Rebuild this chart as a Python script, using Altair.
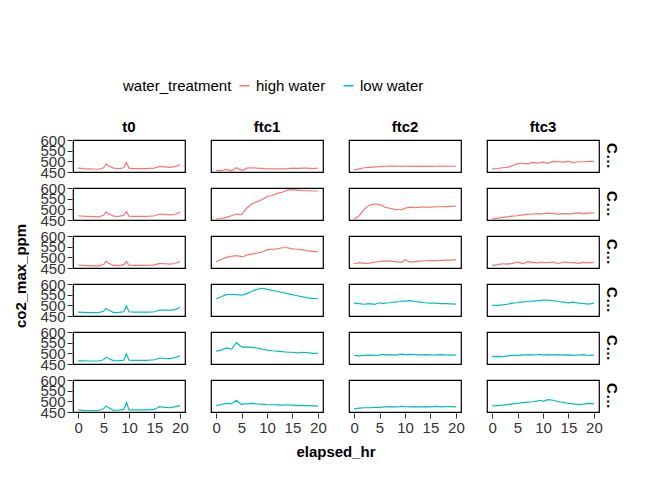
import altair as alt
import pandas as pd

hours = [0, 1, 2, 3, 4, 5, 5.5, 6, 7, 8, 9, 9.5, 10, 11, 12, 13, 14, 15, 16, 17, 18, 19, 20]
phases = ['t0', 'ftc1', 'ftc2', 'ftc3']
chambers = ['COR_1 high water', 'COR_2 high water', 'COR_3 high water',
            'COR_4 low water', 'COR_5 low water', 'COR_6 low water']
treatments = ['high water', 'high water', 'high water', 'low water', 'low water', 'low water']

series = {
    ('COR_1 high water', 't0'): [468, 466, 465, 464, 463, 470, 488, 478, 468, 466, 470, 495, 468, 466, 466, 466, 467, 468, 476, 474, 472, 475, 484],
    ('COR_1 high water', 'ftc1'): [458, 456, 462, 455, 470, 458, 460, 468, 470, 468, 467, 466, 465, 465, 465, 465, 466, 468, 467, 468, 468, 466, 468],
    ('COR_1 high water', 'ftc2'): [460, 465, 470, 472, 474, 475, 476, 477, 478, 478, 477, 476, 478, 476, 476, 476, 477, 476, 477, 478, 478, 477, 478],
    ('COR_1 high water', 'ftc3'): [465, 466, 470, 472, 480, 488, 492, 490, 488, 495, 492, 494, 496, 492, 500, 498, 496, 500, 494, 498, 498, 500, 500],
    ('COR_2 high water', 't0'): [470, 468, 467, 466, 465, 472, 488, 478, 468, 467, 472, 490, 468, 467, 467, 467, 468, 470, 478, 476, 474, 477, 486],
    ('COR_2 high water', 'ftc1'): [455, 457, 462, 470, 478, 475, 490, 505, 525, 535, 545, 552, 560, 565, 575, 580, 590, 592, 590, 588, 587, 586, 586],
    ('COR_2 high water', 'ftc2'): [455, 470, 500, 520, 525, 522, 518, 510, 505, 500, 498, 500, 505, 510, 508, 510, 510, 510, 512, 512, 513, 514, 515],
    ('COR_2 high water', 'ftc3'): [455, 458, 462, 465, 468, 470, 472, 474, 476, 478, 480, 478, 480, 482, 480, 478, 480, 478, 481, 483, 480, 482, 482],
    ('COR_3 high water', 't0'): [464, 462, 461, 460, 460, 466, 482, 472, 462, 461, 466, 480, 463, 462, 462, 462, 463, 465, 472, 470, 468, 471, 480],
    ('COR_3 high water', 'ftc1'): [480, 490, 500, 505, 508, 503, 505, 510, 515, 520, 525, 530, 535, 538, 540, 545, 545, 540, 538, 535, 530, 528, 525],
    ('COR_3 high water', 'ftc2'): [470, 475, 472, 473, 478, 480, 482, 482, 483, 480, 478, 478, 490, 478, 480, 482, 484, 485, 485, 486, 487, 487, 488],
    ('COR_3 high water', 'ftc3'): [462, 465, 470, 468, 472, 478, 475, 470, 480, 476, 474, 478, 475, 476, 478, 470, 478, 476, 475, 472, 476, 474, 476],
    ('COR_4 low water', 't0'): [468, 467, 466, 466, 466, 472, 485, 478, 466, 467, 470, 497, 470, 468, 468, 468, 468, 470, 478, 478, 476, 480, 490],
    ('COR_4 low water', 'ftc1'): [530, 540, 550, 552, 550, 548, 550, 555, 565, 575, 580, 578, 575, 570, 565, 560, 555, 550, 545, 540, 535, 533, 532],
    ('COR_4 low water', 'ftc2'): [510, 508, 505, 508, 505, 512, 508, 510, 512, 515, 518, 520, 520, 522, 518, 515, 512, 510, 510, 508, 508, 507, 506],
    ('COR_4 low water', 'ftc3'): [500, 500, 502, 505, 510, 512, 515, 515, 518, 520, 522, 522, 525, 524, 522, 518, 515, 512, 515, 510, 508, 506, 510],
    ('COR_5 low water', 't0'): [465, 465, 464, 464, 464, 470, 482, 476, 465, 466, 468, 498, 468, 467, 467, 467, 468, 470, 478, 476, 475, 480, 488],
    ('COR_5 low water', 'ftc1'): [510, 515, 525, 520, 550, 530, 528, 530, 528, 525, 520, 518, 515, 512, 510, 508, 505, 505, 502, 505, 503, 500, 500],
    ('COR_5 low water', 'ftc2'): [490, 488, 490, 492, 490, 492, 495, 493, 494, 492, 495, 496, 494, 495, 494, 493, 494, 493, 492, 494, 493, 492, 492],
    ('COR_5 low water', 'ftc3'): [485, 486, 485, 488, 490, 490, 493, 492, 494, 493, 494, 495, 492, 494, 493, 494, 492, 493, 490, 492, 494, 490, 492],
    ('COR_6 low water', 't0'): [460, 458, 457, 457, 457, 465, 478, 470, 458, 459, 462, 495, 460, 460, 460, 460, 461, 462, 475, 472, 470, 474, 480],
    ('COR_6 low water', 'ftc1'): [480, 485, 490, 488, 505, 485, 488, 488, 490, 488, 487, 486, 485, 484, 483, 482, 484, 482, 480, 481, 480, 479, 478],
    ('COR_6 low water', 'ftc2'): [465, 468, 470, 470, 472, 472, 473, 474, 475, 474, 475, 476, 475, 474, 475, 474, 475, 474, 476, 474, 475, 475, 474],
    ('COR_6 low water', 'ftc3'): [478, 480, 482, 485, 488, 490, 493, 494, 496, 498, 502, 505, 500, 508, 505, 498, 495, 490, 488, 485, 487, 490, 488],
}

rows = []
for chamber, treat in zip(chambers, treatments):
    for phase in phases:
        for h, v in zip(hours, series[(chamber, phase)]):
            rows.append({'elapsed_hr': h, 'co2_max_ppm': v, 'phase': phase,
                         'chamber': chamber, 'water_treatment': treat})
df = pd.DataFrame(rows)

chart = alt.Chart(df).mark_line(strokeWidth=1.2, clip=True).encode(
    x=alt.X('elapsed_hr:Q', title=None, scale=alt.Scale(domain=[-1, 21], nice=False),
            axis=alt.Axis(values=[0, 5, 10, 15, 20])),
    y=alt.Y('co2_max_ppm:Q', title=None, scale=alt.Scale(domain=[450, 600], nice=False),
            axis=alt.Axis(values=[450, 500, 550, 600], labelOverlap=False, labelBaseline='middle')),
    color=alt.Color('water_treatment:N', title='water_treatment',
                    scale=alt.Scale(domain=['high water', 'low water'], range=['#F8766D', '#00BFC4']),
                    legend=alt.Legend(orient='none', legendX=50, legendY=-62, direction='horizontal',
                                      titleOrient='left', symbolType='stroke', labelFontSize=15,
                                      titleFontSize=15, titleFontWeight='normal',
                                      symbolStrokeWidth=1.5, columnPadding=14)),
).properties(width=112, height=32).facet(
    column=alt.Column('phase:N', sort=phases, title='elapsed_hr',
                      header=alt.Header(labelFontSize=15, labelFontWeight='bold', labelPadding=4,
                                        titleOrient='bottom', titleFontSize=15, titleFontWeight='bold',
                                        titlePadding=0)),
    row=alt.Row('chamber:N', sort=chambers, title='co2_max_ppm',
                header=alt.Header(labelFontSize=15, labelFontWeight='bold', labelAngle=90,
                                  labelOrient='right', labelLimit=32, labelPadding=4,
                                  titleOrient='left', titleFontSize=15, titleFontWeight='bold',
                                  titlePadding=0)),
    spacing={'row': 14, 'column': 24},
).resolve_axis(x='shared', y='shared').properties(
    padding={'top': 70, 'left': 5, 'right': 5, 'bottom': 5}
).configure_view(
    stroke='black', strokeWidth=1.2
).configure_axis(
    grid=False, labelFontSize=15, labelColor='#333', tickColor='#333', domain=False,
    labelFont='Liberation Sans'
).configure_header(labelFont='Liberation Sans', titleFont='Liberation Sans').configure_legend(
    labelFont='Liberation Sans', titleFont='Liberation Sans'
)

chart.save("out.html", embed_options={"renderer": "svg", "actions": False})
